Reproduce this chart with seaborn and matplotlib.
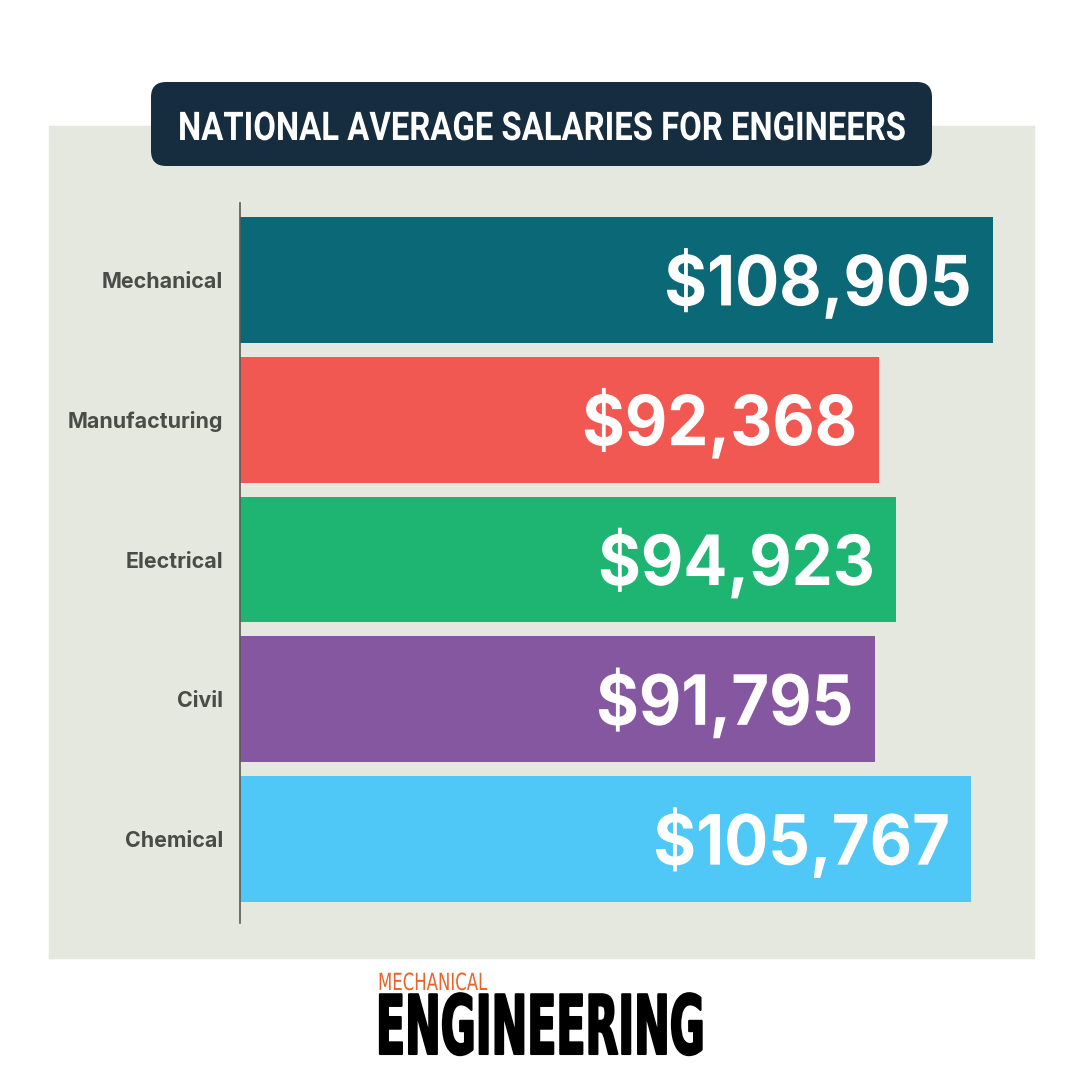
import matplotlib
matplotlib.use("Agg")
import matplotlib.pyplot as plt
import seaborn as sns
import pandas as pd
from matplotlib.patches import Rectangle, FancyBboxPatch
from matplotlib.patheffects import AbstractPathEffect
from matplotlib.transforms import Affine2D

categories = ["Mechanical", "Manufacturing", "Electrical", "Civil", "Chemical"]
salaries = [108905, 92368, 94923, 91795, 105767]
bar_colors = ["#0B6877", "#F15852", "#1EB573", "#8557A0", "#4FC7F7"]
title = "NATIONAL AVERAGE SALARIES FOR ENGINEERS"

W = H = 1080


class StretchX(AbstractPathEffect):
    # widen or narrow the glyphs, text stays text
    def __init__(self, sx, right=False, bold=0):
        super().__init__()
        self.sx = sx
        self.right = right
        self.bold = bold

    def draw_path(self, renderer, gc, tpath, affine, rgbFace=None):
        x0 = tpath.get_extents().x1 if self.right else 0
        tr = Affine2D().translate(-x0, 0).scale(self.sx, 1).translate(x0, 0) + affine
        gc0 = renderer.new_gc()
        gc0.copy_properties(gc)
        if self.bold:
            gc0.set_linewidth(self.bold)
            gc0.set_foreground(rgbFace)
        renderer.draw_path(gc0, tpath, tr, rgbFace)
        gc0.restore()


def fx(px):
    return px / W


def fy(py):
    return 1 - py / H


sns.set_theme(style="white")
fig = plt.figure(figsize=(10.8, 10.8), dpi=100, facecolor="white")

# background panel and title box
fig.patches.append(Rectangle((fx(49), fy(958)), fx(1034) - fx(49), fy(126) - fy(958),
                             transform=fig.transFigure, color="#E5E8DE", zorder=-2))
fig.patches.append(FancyBboxPatch((fx(151), fy(166)), fx(781), 84 / H,
                                  boxstyle="round,pad=0,rounding_size=0.014",
                                  mutation_scale=1, transform=fig.transFigure,
                                  facecolor="#152D3E", linewidth=0, zorder=-1))

# axes placed so that 0 is at x=240 and rows are 139.75px apart
ax = fig.add_axes([fx(240), fy(923), fx(1034 - 240), fy(203) - fy(923)])
ax.patch.set_alpha(0)

df = pd.DataFrame({"field": categories, "salary": salaries})
sns.barplot(data=df, x="salary", y="field", hue="field", palette=bar_colors,
            saturation=1, width=0.9, orient="h", legend=False, linewidth=0, ax=ax)

ax.set_xlim(0, 108905 * 794 / 753)
ax.set_ylim(4.6, -0.55)
ax.set_xlabel("")
ax.set_ylabel("")
ax.set_xticks([])
sns.despine(ax=ax, top=True, right=True, bottom=True)
ax.spines["left"].set_color("#5A5A55")
ax.spines["left"].set_linewidth(1.2)
ax.tick_params(axis="y", length=0, pad=12)
for lab in ax.get_yticklabels():
    lab.set_fontfamily("Inter")
    lab.set_fontweight("bold")
    lab.set_fontsize(15.4)
    lab.set_color("#4B4B47")

for i, val in enumerate(salaries):
    ax.annotate(f"${val:,}", xy=(val, i), xytext=(-15.5, 2.5), textcoords="offset points",
                ha="right", va="center_baseline", color="white", fontsize=50,
                fontfamily="Inter", fontweight="bold",
                path_effects=[StretchX(0.94, right=True)])

fig.text(fx(178), fy(140), title, color="white", fontsize=28.5, fontfamily="Roboto",
         fontweight="bold", ha="left", va="baseline",
         path_effects=[StretchX(0.83)])

# logo
fig.text(fx(378), fy(990), "MECHANICAL", color="#E8622C", fontsize=17,
         fontfamily="Liberation Sans Narrow", ha="left", va="baseline",
         path_effects=[StretchX(0.7)])
fig.text(fx(376), fy(1054), "ENGINEERING", color="black", fontsize=59,
         fontfamily="Liberation Sans Narrow", fontweight="bold", ha="left", va="baseline",
         path_effects=[StretchX(0.52, bold=1.5)])

fig.savefig("out.png", dpi=100)
